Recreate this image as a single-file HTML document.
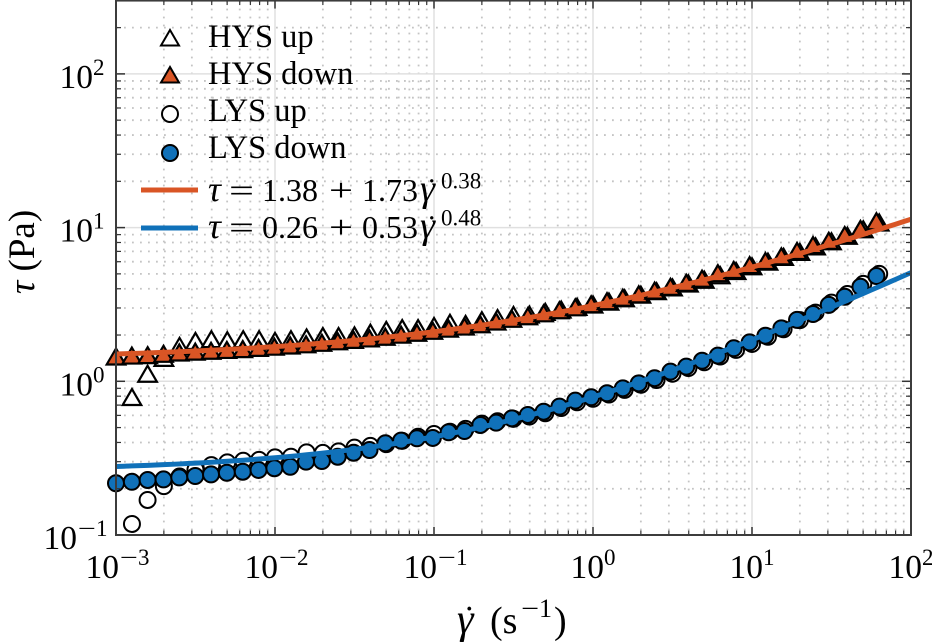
<!DOCTYPE html>
<html>
<head>
<meta charset="utf-8">
<title>Flow curve chart</title>
<style>
html,body{margin:0;padding:0;background:#fff;}
svg{display:block;font-family:"Liberation Serif","DejaVu Serif",serif;fill:#000;}
</style>
</head>
<body>
<svg id="chart" xmlns="http://www.w3.org/2000/svg" width="932" height="644" viewBox="0 0 932 644">
  <defs><clipPath id="plot-clip"><rect x="116" y="1" width="796" height="534"/></clipPath></defs>
  <g id="grid"></g>
  <g id="marks"></g>
  <g id="fits" clip-path="url(#plot-clip)"></g>
  <g id="axes"></g>
  <g id="legend">
    <polygon points="170,30 161,45.5 179,45.5" fill="#fff" stroke="#000" stroke-width="2"/>
    <text x="208" y="47" font-size="32.5">HYS up</text>
    <polygon points="170,67 161,82.5 179,82.5" fill="#D95525" stroke="#000" stroke-width="2"/>
    <text x="208" y="84" font-size="32.5">HYS down</text>
    <circle cx="170" cy="114" r="8" fill="#fff" stroke="#000" stroke-width="2"/>
    <text x="208" y="121" font-size="32.5">LYS up</text>
    <circle cx="170" cy="153" r="8" fill="#1071B9" stroke="#000" stroke-width="2"/>
    <text x="208" y="158" font-size="32.5">LYS down</text>
    <line x1="141" x2="198" y1="190" y2="190" stroke="#D95525" stroke-width="5"/>
    <g font-size="32">
      <text x="208" y="201" font-size="36" font-style="italic">τ</text>
      <text x="229" y="201" textLength="25" lengthAdjust="spacingAndGlyphs">=</text>
      <text x="262" y="201">1.38</text>
      <text x="329" y="201" textLength="24" lengthAdjust="spacingAndGlyphs">+</text>
      <text x="362" y="201">1.73</text>
      <text x="420" y="201" font-size="38" font-style="italic">γ</text>
      <text x="426.4" y="200">˙</text>
      <text x="441" y="188.5" font-size="23">0.38</text>
    </g>
    <line x1="141" x2="198" y1="228" y2="228" stroke="#1071B9" stroke-width="5"/>
    <g font-size="32">
      <text x="208" y="238" font-size="36" font-style="italic">τ</text>
      <text x="229" y="238" textLength="25" lengthAdjust="spacingAndGlyphs">=</text>
      <text x="262" y="238">0.26</text>
      <text x="329" y="238" textLength="24" lengthAdjust="spacingAndGlyphs">+</text>
      <text x="362" y="238">0.53</text>
      <text x="420" y="238" font-size="38" font-style="italic">γ</text>
      <text x="426.4" y="237">˙</text>
      <text x="441" y="225.5" font-size="23">0.48</text>
    </g>
  </g>
  <text transform="translate(34,294) rotate(-90)" font-size="37"><tspan font-style="italic">τ</tspan> (Pa)</text>
  <g font-size="38">
    <text x="457" y="633" font-size="42" font-style="italic">γ</text>
    <text x="463.3" y="630.6" font-size="36">˙</text>
    <text x="490" y="633">(s</text>
    <text x="521" y="617" font-size="26" textLength="18" lengthAdjust="spacingAndGlyphs">−</text>
    <text x="539" y="617" font-size="26">1</text>
    <text x="554" y="633">)</text>
  </g>
</svg>
<script>
var xTickExponents = [-3, -2, -1, 0, 1, 2];
var yTickExponents = [-1, 0, 1, 2];
var yAxisMax = 300;

var gammaDown = [0.00100,0.001258,0.001582,0.00199,0.00250,0.00315,0.00396,0.00498,0.00627,0.00788,0.00991,0.01247,0.01568,0.01972,0.0248,0.0312,0.0393,0.0494,0.0621,0.0781,0.0983,0.1236,0.1555,0.1956,0.246,0.309,0.389,0.489,0.615,0.774,0.974,1.225,1.54,1.94,2.44,3.07,3.86,4.85,6.10,7.68,9.66,12.15,15.3,19.2,24.2,30.4,38.3,48.1,60.6];
var gammaUp = [0.00126,0.00158,0.00200,0.00251,0.00316,0.00398,0.00501,0.00631,0.00794,0.0100,0.0126,0.0158,0.0200,0.0251,0.0316,0.0398,0.0501,0.0631,0.0794,0.100,0.126,0.158,0.200,0.251,0.316,0.398,0.501,0.631,0.794,1.00,1.26,1.58,2.00,2.51,3.16,3.98,5.01,6.31,7.94,10.0,12.6,15.8,20.0,25.1,31.6,39.8,50.1,63.1];

var hysUp = [0.79,1.12,1.42,1.70,1.83,1.88,1.85,1.88,1.88,1.83,1.88,1.93,1.97,1.97,1.99,2.07,2.16,2.22,2.22,2.29,2.40,2.36,2.50,2.58,2.70,2.72,2.83,2.93,3.05,3.16,3.30,3.47,3.66,3.86,4.08,4.33,4.58,4.90,5.22,5.60,6.00,6.45,6.95,7.55,8.15,8.85,9.75,10.8];
var hysDown = [1.45,1.47,1.48,1.51,1.54,1.56,1.58,1.60,1.62,1.65,1.68,1.71,1.74,1.78,1.82,1.86,1.90,1.95,2.01,2.07,2.13,2.20,2.27,2.35,2.45,2.55,2.65,2.77,2.90,3.03,3.17,3.32,3.50,3.68,3.89,4.12,4.37,4.65,5.05,5.30,5.70,6.06,6.50,7.05,7.70,8.20,8.95,9.80,11.0];
var lysUp = [0.118,0.169,0.208,0.240,0.266,0.285,0.297,0.304,0.308,0.320,0.323,0.345,0.342,0.350,0.370,0.380,0.390,0.410,0.436,0.454,0.470,0.490,0.530,0.550,0.570,0.590,0.620,0.670,0.730,0.770,0.820,0.880,0.950,1.02,1.12,1.22,1.33,1.45,1.60,1.75,1.95,2.18,2.50,2.80,3.25,3.70,4.30,5.00];
var lysDown = [0.217,0.222,0.228,0.230,0.237,0.242,0.248,0.254,0.258,0.265,0.272,0.278,0.300,0.303,0.323,0.343,0.357,0.395,0.411,0.426,0.428,0.466,0.475,0.520,0.538,0.574,0.604,0.634,0.684,0.748,0.787,0.836,0.900,0.970,1.047,1.155,1.245,1.36,1.47,1.64,1.79,1.98,2.21,2.51,2.74,3.14,3.55,4.12,4.84];

var hysFit = [1.38, 1.73, 0.38];
var lysFit = [0.26, 0.53, 0.48];

var NS = 'http://www.w3.org/2000/svg';
var COLOR_ORANGE = '#D95525';
var COLOR_BLUE = '#1071B9';
function xAxis(v) { return 116 + (Math.log10(v) + 3) * 159; }
function yAxis(v) { return 535 - (Math.log10(v) + 1) * 153.7; }
function make(tag, attrs, parent) {
  var el = document.createElementNS(NS, tag);
  for (var k in attrs) el.setAttribute(k, attrs[k]);
  parent.appendChild(el);
  return el;
}
var gridG = document.getElementById('grid');
var marksG = document.getElementById('marks');
var fitsG = document.getElementById('fits');
var axesG = document.getElementById('axes');
var X0 = xAxis(1e-3), X1 = xAxis(100), Y0 = yAxis(0.1), Y1 = yAxis(yAxisMax);

function powerLabel(startX, baseline, exponent, group) {
  var baseText = make('text', {x: startX, y: baseline, 'font-size': 33.5}, group);
  baseText.textContent = '10';
  var cursor = startX + 33.5;
  if (exponent < 0) {
    var minusText = make('text', {x: cursor + 1, y: baseline - 13, 'font-size': 23, textLength: 18, lengthAdjust: 'spacingAndGlyphs'}, group);
    minusText.textContent = '\u2212';
    cursor += 19;
  }
  var expText = make('text', {x: cursor, y: baseline - 13, 'font-size': 23}, group);
  expText.textContent = String(Math.abs(exponent));
}

xTickExponents.forEach(function (e, idx) {
  var base = Math.pow(10, e);
  var px = xAxis(base);
  if (idx > 0 && idx < xTickExponents.length - 1) {
    var gl = make('line', {x1: px, x2: px, y1: Y1, y2: Y0, stroke: '#e0e0e0', 'stroke-width': 1.5}, gridG);
    
    
  }
  var t1 = make('line', {x1: px, x2: px, y1: Y0, y2: Y0 - 8, stroke: '#333', 'stroke-width': 1.5}, axesG);
  
  
  var t2 = make('line', {x1: px, x2: px, y1: Y1, y2: Y1 + 8, stroke: '#333', 'stroke-width': 1.5}, axesG);
  
  
  var lab = make('g', {}, axesG);
  
  
  powerLabel(px - (e < 0 ? 30.5 : 22.5), 578, e, lab);
  if (idx < xTickExponents.length - 1) {
    for (var m = 2; m <= 9; m++) {
      var mx = xAxis(base * m);
      var g2 = make('line', {x1: mx, x2: mx, y1: Y1, y2: Y0, stroke: '#c4c4c4', 'stroke-width': 1.8, 'stroke-dasharray': '1.8 6.2'}, gridG);
      
      
      var t3 = make('line', {x1: mx, x2: mx, y1: Y0, y2: Y0 - 4.5, stroke: '#333', 'stroke-width': 1.2}, axesG);
      
      
      var t4 = make('line', {x1: mx, x2: mx, y1: Y1, y2: Y1 + 4.5, stroke: '#333', 'stroke-width': 1.2}, axesG);
      
      
    }
  }
});

yTickExponents.forEach(function (e, idx) {
  var base = Math.pow(10, e);
  var py = yAxis(base);
  if (idx > 0) {
    var gl = make('line', {x1: X0, x2: X1, y1: py, y2: py, stroke: '#e0e0e0', 'stroke-width': 1.5}, gridG);
    
    
  }
  var t1 = make('line', {x1: X0, x2: X0 + 9, y1: py, y2: py, stroke: '#333', 'stroke-width': 1.5}, axesG);
  
  
  var t2 = make('line', {x1: X1, x2: X1 - 9, y1: py, y2: py, stroke: '#333', 'stroke-width': 1.5}, axesG);
  
  
  var lab = make('g', {}, axesG);
  
  
  powerLabel(e < 0 ? 43.5 : 59.5, py + 14, e, lab);
  for (var m = 2; m <= 9; m++) {
    var v = base * m;
    if (v > yAxisMax) break;
    var my = yAxis(v);
    var g2 = make('line', {x1: X0, x2: X1, y1: my, y2: my, stroke: '#c4c4c4', 'stroke-width': 1.8, 'stroke-dasharray': '1.8 6.2'}, gridG);
    
    
    var t3 = make('line', {x1: X0, x2: X0 + 5, y1: my, y2: my, stroke: '#333', 'stroke-width': 1.2}, axesG);
    
    
    var t4 = make('line', {x1: X1, x2: X1 - 5, y1: my, y2: my, stroke: '#333', 'stroke-width': 1.2}, axesG);
    
    
  }
});

var frame = make('rect', {x: X0, y: Y1, width: X1 - X0, height: Y0 - Y1, fill: 'none', stroke: '#3c3c3c', 'stroke-width': 2}, axesG);



function triangles(xs, ys, fill, name) {
  ys.forEach(function (v, i) {
    var cx = xAxis(xs[i]), cy = yAxis(v);
    var pts = cx + ',' + (cy - 8) + ' ' + (cx - 9.3) + ',' + (cy + 8) + ' ' + (cx + 9.3) + ',' + (cy + 8);
    var el = make('polygon', {points: pts, fill: fill, stroke: '#000', 'stroke-width': 2.2}, marksG);
    
    
  });
}
function circles(xs, ys, fill, name) {
  ys.forEach(function (v, i) {
    var el = make('circle', {cx: xAxis(xs[i]), cy: yAxis(v), r: 8, fill: fill, stroke: '#000', 'stroke-width': 2}, marksG);
    
    
  });
}
triangles(gammaUp, hysUp, '#fff', 'hys-up-point');
triangles(gammaDown, hysDown, COLOR_ORANGE, 'hys-down-point');
circles(gammaUp, lysUp, '#fff', 'lys-up-point');
circles(gammaDown, lysDown, COLOR_BLUE, 'lys-down-point');

function fitPath(params) {
  var d = '';
  for (var k = 0; k <= 100; k++) {
    var g = Math.pow(10, -3 + k * 0.05);
    var tau = params[0] + params[1] * Math.pow(g, params[2]);
    d += (k ? 'L' : 'M') + xAxis(g).toFixed(2) + ' ' + yAxis(tau).toFixed(2);
  }
  return d;
}
var hysLine = make('path', {d: fitPath(hysFit), fill: 'none', stroke: COLOR_ORANGE, 'stroke-width': 5}, fitsG);


var lysLine = make('path', {d: fitPath(lysFit), fill: 'none', stroke: COLOR_BLUE, 'stroke-width': 5}, fitsG);


</script>
</body>
</html>
